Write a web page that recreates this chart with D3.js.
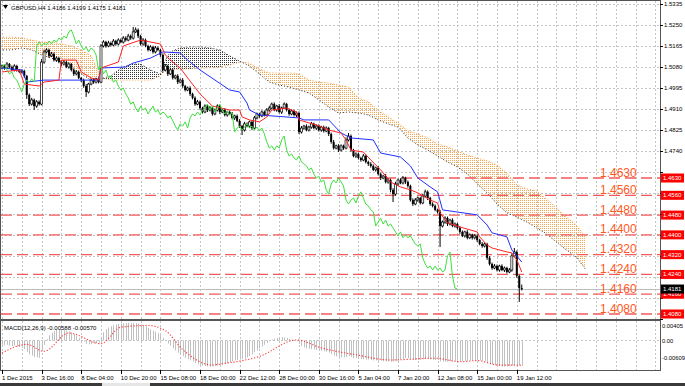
<!DOCTYPE html>
<html>
<head>
<meta charset="utf-8">
<script src="https://d3js.org/d3.v7.min.js"></script>
<style>
  body { margin: 0; background: #fff; }
  svg { display: block; font-family: "Liberation Sans", Arial, sans-serif; }
</style>
</head>
<body>
<svg id="chart"></svg>
<script>
// GBPUSD H4 with Ichimoku, support levels and MACD(12,26,9)

const closes = [
  1.5083,1.5075,1.5091,1.5079,1.5067,1.5083,1.5067,1.5059,1.5063,1.5043,
  1.4966,1.4929,1.4946,1.4921,1.4938,1.4929,1.5099,1.5140,1.5148,1.5124,
  1.5132,1.5107,1.5115,1.5099,1.5091,1.5099,1.5079,1.5091,1.5067,1.5051,
  1.5059,1.5035,1.5026,1.5002,1.4978,1.5010,1.5026,1.5018,1.5031,1.5018,
  1.5164,1.5180,1.5164,1.5176,1.5168,1.5184,1.5172,1.5188,1.5180,1.5196,
  1.5188,1.5204,1.5196,1.5221,1.5229,1.5204,1.5172,1.5188,1.5164,1.5148,
  1.5160,1.5140,1.5156,1.5148,1.5128,1.5067,1.5083,1.5051,1.5067,1.5035,
  1.5043,1.5018,1.5026,1.5002,1.4986,1.4994,1.4970,1.4954,1.4929,1.4938,
  1.4913,1.4897,1.4921,1.4905,1.4913,1.4889,1.4905,1.4921,1.4897,1.4905,
  1.4885,1.4897,1.4889,1.4873,1.4881,1.4861,1.4840,1.4824,1.4849,1.4840,
  1.4857,1.4832,1.4873,1.4889,1.4881,1.4897,1.4885,1.4905,1.4913,1.4929,
  1.4905,1.4921,1.4897,1.4913,1.4929,1.4905,1.4889,1.4901,1.4885,1.4893,
  1.4816,1.4832,1.4840,1.4824,1.4836,1.4849,1.4832,1.4840,1.4824,1.4836,
  1.4820,1.4832,1.4808,1.4776,1.4751,1.4760,1.4743,1.4760,1.4751,1.4784,
  1.4800,1.4743,1.4719,1.4727,1.4711,1.4703,1.4719,1.4695,1.4687,1.4679,
  1.4663,1.4671,1.4646,1.4630,1.4638,1.4614,1.4622,1.4582,1.4565,1.4606,
  1.4622,1.4610,1.4630,1.4614,1.4598,1.4541,1.4525,1.4541,1.4549,1.4529,
  1.4557,1.4574,1.4549,1.4525,1.4517,1.4501,1.4493,1.4436,1.4452,1.4468,
  1.4444,1.4460,1.4436,1.4444,1.4428,1.4412,1.4396,1.4412,1.4388,1.4400,
  1.4388,1.4396,1.4379,1.4363,1.4355,1.4363,1.4307,1.4282,1.4266,1.4274,
  1.4258,1.4274,1.4258,1.4266,1.4250,1.4258,1.4315,1.4331,1.4234,1.4185,
  1.4181
];
const firstOpen = 1.5075;

// wick lengths in pips above / below the candle body
const upWick = [
  6,5,8,4,6,7,5,4,6,5, 4,6,8,5,7,6,12,9,7,5, 8,6,7,5,6,8,5,7,4,6,
  7,5,4,6,8,5,6,7,5,6, 8,7,5,9,6,8,5,7,6,8, 7,9,6,20,10,6,5,8,6,5,
  7,5,8,6,5,6,8,5,7,6, 5,7,6,8,5,6,7,5,6,8, 6,5,7,6,8,5,6,7,5,6,
  7,5,6,8,5,6,7,5,8,6, 5,7,8,6,5,7,6,8,9,6, 7,5,8,6,7,5,6,7,5,6,
  6,8,5,7,6,8,5,6,7,5, 6,7,5,6,8,5,7,6,5,10, 12,6,5,7,6,5,8,6,5,7,
  6,5,7,6,5,8,6,5,7,9, 6,7,8,5,6,5,7,8,6,5, 8,9,6,5,7,6,5,8,6,7,
  6,5,7,6,5,8,6,5,7,6, 5,7,6,5,8,6,5,7,6,8, 6,5,7,6,5,8,10,16,6,5,
  14
];
const dnWick = [
  5,7,4,6,5,6,7,5,6,8, 16,8,6,16,7,6,5,7,6,8, 5,6,7,5,8,6,5,7,6,8,
  6,5,8,7,20,6,5,7,6,5, 5,6,7,5,6,5,7,6,5,6, 6,5,7,6,5,8,6,7,5,6,
  5,7,6,5,8,7,6,8,5,7, 6,8,5,7,6,5,8,6,7,5, 7,6,5,8,6,7,5,6,8,5,
  6,7,5,6,8,5,7,20,6,5, 7,8,5,6,7,5,6,5,7,6, 5,7,6,8,5,6,7,5,6,8,
  8,6,7,5,6,7,5,8,6,7, 6,5,8,7,6,5,8,6,7,5, 6,7,5,8,6,7,5,6,8,7,
  5,7,6,8,5,6,7,10,32,6, 7,5,6,8,7,6,8,5,7,6, 5,6,8,7,6,5,7,85,6,7,
  8,6,5,7,6,8,5,7,6,5, 7,6,8,5,7,6,8,6,7,5, 6,7,5,8,6,5,7,6,8,56,
  6
];

// Ichimoku lines read as (bar index, price) knots
const tenkanIdx = [0,7,9,15,17,23,24,30,32,36,39,40,47,49,56,64,66,68,72,76,80,85,92,96,97,100,104,107,109,115,119,120,124,127,132,137,139,141,146,149,153,157,161,165,168,173,176,177,180,185,192,193,196,198,204,206,208,210];
const tenkanVal = [1.5059,1.5067,1.5010,1.5002,1.5018,1.5026,1.5107,1.5107,1.5059,1.5035,1.5026,1.5075,1.5099,1.5164,1.5188,1.5172,1.5128,1.5107,1.5075,1.5022,1.4970,1.4921,1.4905,1.4905,1.4877,1.4865,1.4857,1.4877,1.4905,1.4913,1.4897,1.4865,1.4853,1.4845,1.4824,1.4812,1.4784,1.4743,1.4735,1.4703,1.4663,1.4614,1.4594,1.4582,1.4570,1.4541,1.4529,1.4489,1.4448,1.4432,1.4412,1.4392,1.4359,1.4347,1.4331,1.4327,1.4299,1.4250];

const kijunIdx = [0,8,10,17,39,40,50,53,60,65,72,75,80,92,96,99,100,104,120,122,132,137,141,150,153,161,165,168,173,176,178,192,196,198,204,206,210];
const kijunVal = [1.5075,1.5067,1.5018,1.5026,1.5026,1.5075,1.5079,1.5095,1.5115,1.5140,1.5136,1.5107,1.5067,1.4986,1.4978,1.4933,1.4905,1.4885,1.4873,1.4865,1.4865,1.4812,1.4792,1.4784,1.4731,1.4715,1.4679,1.4630,1.4594,1.4574,1.4501,1.4481,1.4440,1.4408,1.4392,1.4339,1.4290];

const cloudIdx = [-2,0,4,8,12,16,20,24,28,32,36,40,44,48,52,56,60,64,66,68,72,76,80,84,88,92,96,100,104,108,112,116,120,124,128,132,136,140,144,148,152,156,160,164,168,172,176,180,184,188,192,196,200,204,208,212,216,220,224,228,232,236];
const spanB = [1.5200,1.5200,1.5200,1.5196,1.5188,1.5180,1.5180,1.5172,1.5164,1.5148,1.5124,1.5035,1.5026,1.5026,1.5026,1.5026,1.5026,1.5043,1.5067,1.5067,1.5071,1.5071,1.5075,1.5075,1.5079,1.5087,1.5099,1.5095,1.5071,1.5055,1.5055,1.5055,1.5051,1.5026,1.5018,1.5014,1.5006,1.4998,1.4954,1.4938,1.4905,1.4877,1.4853,1.4820,1.4808,1.4792,1.4768,1.4756,1.4739,1.4723,1.4711,1.4699,1.4683,1.4650,1.4602,1.4586,1.4578,1.4545,1.4509,1.4472,1.4440,1.4388];
const spanA = [1.5148,1.5148,1.5148,1.5156,1.5148,1.5128,1.5115,1.5099,1.5075,1.5051,1.5026,1.5031,1.5043,1.5075,1.5091,1.5091,1.5067,1.5051,1.5107,1.5140,1.5156,1.5160,1.5160,1.5156,1.5148,1.5124,1.5103,1.5083,1.5051,1.5018,1.5006,1.4998,1.4986,1.4974,1.4946,1.4917,1.4893,1.4897,1.4893,1.4885,1.4865,1.4849,1.4836,1.4792,1.4764,1.4743,1.4719,1.4695,1.4675,1.4646,1.4606,1.4570,1.4525,1.4489,1.4472,1.4452,1.4428,1.4404,1.4371,1.4339,1.4311,1.4258];

// MACD main in units of 0.00001, one per bar
const macdMain = [
  -100,-110,-100,-120,-130,-120,-140,-150, -170,-200,-260,-320,-350,-380,-390,-400,
  -250,-100,30,120,180,220,240,250, 250,240,230,210,180,150,110,60,
  20,-30,-80,-90,-80,-70,-60,-50, 80,190,260,300,330,350,370,380,
  390,395,400,405,400,405,400,390, 370,350,320,290,260,230,200,170,
  130,60,0,-70,-120,-180,-230,-280, -320,-360,-400,-430,-460,-490,-520,-540,
  -560,-580,-590,-600,-609,-600,-590,-580, -570,-555,-540,-520,-500,-480,-460,-450,
  -440,-430,-420,-390,-360,-320,-270,-230, -180,-140,-100,-60,-20,20,40,60,
  70,80,70,60,40,20,0,-20, -80,-130,-160,-180,-190,-200,-210,-220,
  -230,-240,-250,-260,-280,-320,-350,-370, -380,-390,-390,-380,-360,-380,-400,-410,
  -420,-430,-430,-440,-440,-450,-460,-460, -470,-470,-480,-480,-480,-490,-490,-480,
  -460,-440,-430,-410,-410,-430,-440,-450, -450,-450,-440,-430,-430,-440,-440,-450,
  -450,-480,-490,-490,-490,-480,-480,-470, -470,-470,-470,-470,-470,-460,-460,-460,
  -460,-460,-470,-470,-490,-520,-550,-570, -580,-590,-600,-600,-600,-600,-580,-560,
  -560,-575,-588
];
const signalIdx = [0,10,17,27,40,48,59,66,73,85,90,104,119,129,143,157,175,185,192,201,207,210];
const signalVal = [-0.00288,-0.00090,-0.00249,0.00173,-0.00074,0.00307,0.00346,0.00228,-0.00210,-0.00565,-0.00528,-0.00369,0.00012,-0.00171,-0.00330,-0.00449,-0.00408,-0.00489,-0.00463,-0.00567,-0.00567,-0.00570];

const levels = [1.4630, 1.4560, 1.4480, 1.4400, 1.4320, 1.4240, 1.4160, 1.4080];
const lastPrice = 1.4181;
const priceTicks = [1.5335,1.5250,1.5165,1.5080,1.4995,1.4910,1.4825,1.4740,1.4655,1.4570,1.4485,1.4400,1.4315,1.4230,1.4145,1.4060];
const macdTicks = [0.00405, 0, -0.00609];
const macdTickText = ["0.00405", "0.00", "-0.00609"];
const timeIdx = [0,16,32,48,64,80,96,112,128,144,160,176,192,208];
const timeLabels = ["1 Dec 2015","3 Dec 16:00","8 Dec 04:00","10 Dec 20:00","15 Dec 08:00","18 Dec 00:00","22 Dec 12:00","28 Dec 00:00","30 Dec 16:00","5 Jan 04:00","7 Jan 20:00","12 Jan 08:00","15 Jan 00:00","19 Jan 12:00"];
const header = "GBPUSD,H4  1.4186 1.4199 1.4175 1.4181";
const macdTitle = "MACD(12,26,9) -0.00588 -0.00570";

const W = 685, H = 386;
const main = { left: 1, right: 660, top: 1, bottom: 319 };
const sub = { top: 321, bottom: 370 };

const svg = d3.select("#chart").attr("width", W).attr("height", H);

const x = d3.scaleLinear().domain([0, 210]).range([2, 2 + 210 * 2.475]);
const y = d3.scaleLinear().domain([1.4080, 1.5335]).range([314, 3.7]);
const yM = d3.scaleLinear().domain([-0.00609, 0.00405]).range([366.9, 322.9]);

const defs = svg.append("defs");
defs.append("clipPath").attr("id", "clipMain").append("rect")
    .attr("x", main.left).attr("y", main.top)
    .attr("width", main.right - main.left).attr("height", main.bottom - main.top);
defs.append("clipPath").attr("id", "clipSub").append("rect")
    .attr("x", main.left).attr("y", sub.top)
    .attr("width", main.right - main.left).attr("height", sub.bottom - sub.top);

const dots = (id, color) => {
    const p = defs.append("pattern").attr("id", id)
        .attr("width", 2).attr("height", 2).attr("patternUnits", "userSpaceOnUse");
    p.append("rect").attr("width", 1).attr("height", 1).attr("fill", color);
};
dots("dotsOrange", "#f6a64e");
dots("dotsBlack", "#333");

const gridColor = "#c4c4c4";
const gridIdx = d3.range(0, 268, 8);

// ---------- main panel ----------
const g = svg.append("g").attr("clip-path", "url(#clipMain)");

g.selectAll(".vgrid").data(gridIdx).join("line")
    .attr("x1", d => Math.round(x(d)) + 0.5).attr("x2", d => Math.round(x(d)) + 0.5)
    .attr("y1", main.top).attr("y2", main.bottom)
    .attr("stroke", gridColor).attr("stroke-dasharray", "2,2");

g.selectAll(".hgrid").data(priceTicks).join("line")
    .attr("x1", main.left).attr("x2", main.right)
    .attr("y1", d => Math.round(y(d)) + 0.5).attr("y2", d => Math.round(y(d)) + 0.5)
    .attr("stroke", gridColor).attr("stroke-dasharray", "2,2");

// kumo
const cloud = cloudIdx.map((d, k) => ({ i: d, a: spanA[k], b: spanB[k] }));
const aboveA = d3.area().x(d => x(d.i)).y0(0).y1(d => y(d.a));
const aboveB = d3.area().x(d => x(d.i)).y0(0).y1(d => y(d.b));
const belowA = d3.area().x(d => x(d.i)).y0(d => y(d.a)).y1(H);
const belowB = d3.area().x(d => x(d.i)).y0(d => y(d.b)).y1(H);
defs.append("clipPath").attr("id", "clipAboveA").append("path").attr("d", aboveA(cloud));
defs.append("clipPath").attr("id", "clipAboveB").append("path").attr("d", aboveB(cloud));

g.append("path").attr("d", belowB(cloud))
    .attr("fill", "url(#dotsOrange)").attr("clip-path", "url(#clipAboveA)");
g.append("path").attr("d", belowA(cloud))
    .attr("fill", "url(#dotsBlack)").attr("clip-path", "url(#clipAboveB)");

const cloudLine = key => d3.line().x(d => x(d.i)).y(d => y(d[key]));
g.append("path").datum(cloud).attr("d", cloudLine("b"))
    .attr("fill", "none").attr("stroke", "#f39a3c").attr("stroke-dasharray", "1,2");
g.append("path").datum(cloud).attr("d", cloudLine("a"))
    .attr("fill", "none").attr("stroke", "#333").attr("stroke-dasharray", "1,2");

// bid line
g.append("line")
    .attr("x1", main.left).attr("x2", main.right)
    .attr("y1", Math.round(y(lastPrice)) + 0.5).attr("y2", Math.round(y(lastPrice)) + 0.5)
    .attr("stroke", "#bdbdbd");

// support levels
g.selectAll(".level").data(levels).join("line")
    .attr("x1", main.left).attr("x2", main.right)
    .attr("y1", d => y(d)).attr("y2", d => y(d))
    .attr("stroke", "#f45a5a").attr("stroke-width", 1.3).attr("stroke-dasharray", "11,5");

// candles
const candles = closes.map((c, i) => {
    const o = i === 0 ? firstOpen : closes[i - 1];
    return {
        i, o, c,
        h: Math.max(o, c) + upWick[i] / 10000,
        l: Math.min(o, c) - dnWick[i] / 10000
    };
});

g.selectAll(".wick").data(candles).join("line")
    .attr("x1", d => x(d.i)).attr("x2", d => x(d.i))
    .attr("y1", d => y(d.h)).attr("y2", d => y(d.l))
    .attr("stroke", "#000").attr("stroke-width", 1);

g.selectAll(".body").data(candles).join("rect")
    .attr("x", d => x(d.i) - 1)
    .attr("width", 2)
    .attr("y", d => y(Math.max(d.o, d.c)))
    .attr("height", d => Math.max(0.8, Math.abs(y(d.o) - y(d.c))))
    .attr("fill", d => d.c >= d.o ? "#fff" : "#000")
    .attr("stroke", "#000").attr("stroke-width", d => d.c >= d.o ? 0.7 : 0);

// tenkan, kijun, chikou
const knotLine = d3.line().x(d => x(d[0])).y(d => y(d[1]));
g.append("path").datum(d3.zip(kijunIdx, kijunVal)).attr("d", knotLine)
    .attr("fill", "none").attr("stroke", "#2030ff").attr("stroke-width", 1);
g.append("path").datum(d3.zip(tenkanIdx, tenkanVal)).attr("d", knotLine)
    .attr("fill", "none").attr("stroke", "#f22").attr("stroke-width", 1);

const chikou = d3.line().x((d, k) => x(k)).y(d => y(d));
g.append("path").datum(closes.slice(26)).attr("d", chikou)
    .attr("fill", "none").attr("stroke", "#3ee03e").attr("stroke-width", 1);

// level captions
g.selectAll(".levelText").data(levels).join("text")
    .attr("x", 600).attr("y", d => y(d) - 1.5)
    .attr("font-size", 12).attr("fill", "#ff5722")
    .text(d => d.toFixed(4));

// header
svg.append("path").attr("d", "M3,5 L8,5 L5.5,9 Z").attr("fill", "#000");
svg.append("text").attr("x", 11).attr("y", 9.5)
    .attr("font-size", 6).attr("fill", "#000").text(header);

// ---------- MACD panel ----------
const m = svg.append("g").attr("clip-path", "url(#clipSub)");

m.selectAll(".vgrid").data(gridIdx).join("line")
    .attr("x1", d => Math.round(x(d)) + 0.5).attr("x2", d => Math.round(x(d)) + 0.5)
    .attr("y1", sub.top).attr("y2", sub.bottom)
    .attr("stroke", gridColor).attr("stroke-dasharray", "2,2");

m.append("line")
    .attr("x1", main.left).attr("x2", main.right)
    .attr("y1", Math.round(yM(0)) + 0.5).attr("y2", Math.round(yM(0)) + 0.5)
    .attr("stroke", gridColor).attr("stroke-dasharray", "2,2");

m.selectAll(".hist").data(macdMain).join("line")
    .attr("x1", (d, i) => Math.round(x(i)) + 0.5).attr("x2", (d, i) => Math.round(x(i)) + 0.5)
    .attr("y1", yM(0)).attr("y2", d => yM(d / 100000))
    .attr("stroke", "#c0c0c0").attr("stroke-width", 1);

m.append("path").datum(d3.zip(signalIdx, signalVal))
    .attr("d", d3.line().curve(d3.curveMonotoneX).x(d => x(d[0])).y(d => yM(d[1])))
    .attr("fill", "none").attr("stroke", "#f33").attr("stroke-width", 1.1)
    .attr("stroke-dasharray", "1.2,1.8");

svg.append("text").attr("x", 4).attr("y", 329.5)
    .attr("font-size", 6).attr("fill", "#000").text(macdTitle);

// ---------- frames and axes ----------
svg.append("rect").attr("x", main.left - 0.5).attr("y", main.top - 0.5)
    .attr("width", main.right - main.left + 1).attr("height", main.bottom - main.top + 1)
    .attr("fill", "none").attr("stroke", "#555");
svg.append("rect").attr("x", main.left - 0.5).attr("y", sub.top - 0.5)
    .attr("width", main.right - main.left + 1).attr("height", sub.bottom - sub.top + 1)
    .attr("fill", "none").attr("stroke", "#555");

// scale labels hidden where a price tag covers them
const tagPrices = levels.concat([lastPrice]);
const freeTicks = priceTicks.filter(t => tagPrices.every(p => Math.abs(y(p) - y(t)) > 8.5));

const axisR = svg.append("g");
axisR.selectAll("line").data(priceTicks).join("line")
    .attr("x1", main.right).attr("x2", main.right + 3)
    .attr("y1", d => Math.round(y(d)) + 0.5).attr("y2", d => Math.round(y(d)) + 0.5)
    .attr("stroke", "#000");
axisR.selectAll("text").data(freeTicks).join("text")
    .attr("x", main.right + 4).attr("y", d => y(d) + 2)
    .attr("font-size", 6).attr("fill", "#000")
    .text(d => d.toFixed(4));

const axisM = svg.append("g");
axisM.selectAll("text").data(macdTicks).join("text")
    .attr("x", main.right + 2)
    .attr("y", (d, k) => [326, 340.5, 358][k] + 2)
    .attr("font-size", 5.8).attr("fill", "#000")
    .text((d, k) => macdTickText[k]);

// price tags on the scale
const tags = svg.append("g");
tags.selectAll("rect").data(levels).join("rect")
    .attr("x", main.right + 1).attr("y", d => y(d) - 4.5)
    .attr("width", 23).attr("height", 9).attr("fill", "#f00");
tags.selectAll("text").data(levels).join("text")
    .attr("x", main.right + 3).attr("y", d => y(d) + 2)
    .attr("font-size", 6).attr("fill", "#fff")
    .text(d => d.toFixed(4));
tags.append("rect").attr("x", main.right + 1).attr("y", y(lastPrice) - 4.5)
    .attr("width", 23).attr("height", 9).attr("fill", "#000");
tags.append("text").attr("x", main.right + 3).attr("y", y(lastPrice) + 2)
    .attr("font-size", 6).attr("fill", "#fff").text(lastPrice.toFixed(4));

const axisB = svg.append("g");
axisB.selectAll("line").data(timeIdx).join("line")
    .attr("x1", d => Math.round(x(d)) + 0.5).attr("x2", d => Math.round(x(d)) + 0.5)
    .attr("y1", sub.bottom).attr("y2", sub.bottom + 4)
    .attr("stroke", "#000");
axisB.selectAll("text").data(timeIdx).join("text")
    .attr("x", d => x(d)).attr("y", 379.5)
    .attr("font-size", 6).attr("fill", "#000")
    .text((d, k) => timeLabels[k]);

// bottom tab strip
svg.append("rect").attr("x", 0).attr("y", 383).attr("width", W).attr("height", 3).attr("fill", "#3a3a3a");
svg.append("rect").attr("x", 102).attr("y", 383).attr("width", 48).attr("height", 3).attr("fill", "#e6e6e6");
</script>
</body>
</html>
